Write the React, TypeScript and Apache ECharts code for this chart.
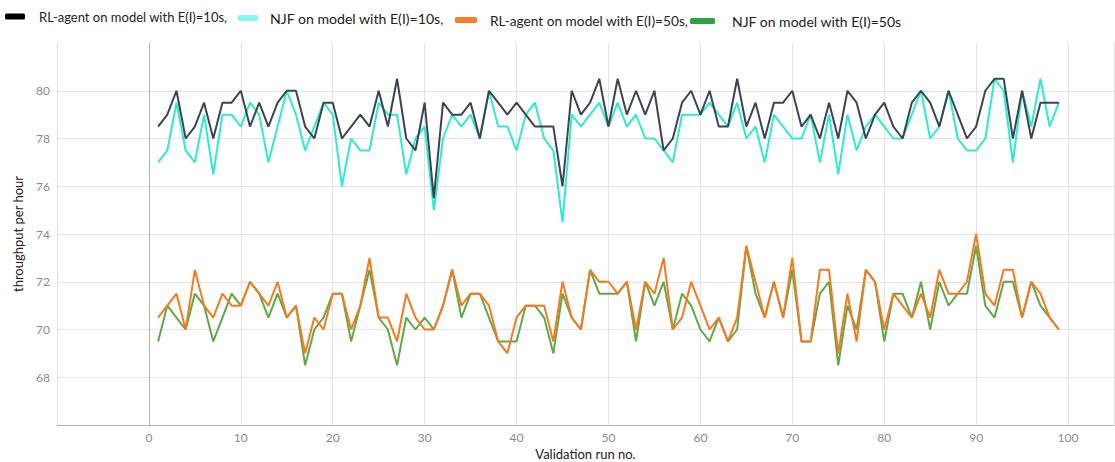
import React, { useEffect, useRef } from "react";
import * as echarts from "echarts";

// Validation run numbers 1..99
const runs: number[] = Array.from({ length: 99 }, (_, i) => i + 1);

const seriesNames = [
  "RL-agent on model with E(I)=10s,",
  "NJF on model with E(I)=10s,",
  "RL-agent on model with E(I)=50s,",
  "NJF on model with E(I)=50s",
];

const rl10: number[] = [
  78.5, 79, 80, 78, 78.5, 79.5, 78, 79.5, 79.5, 80,
  78.5, 79.5, 78.5, 79.5, 80, 80, 78.5, 78, 79.5, 79.5,
  78, 78.5, 79, 78.5, 80, 78.5, 80.5, 78, 77.5, 79.5,
  75.5, 79.5, 79, 79, 79.5, 78, 80, 79.5, 79, 79.5,
  79, 78.5, 78.5, 78.5, 76, 80, 79, 79.5, 80.5, 78.5,
  80.5, 79, 80, 79, 80, 77.5, 78, 79.5, 80, 79,
  80, 78.5, 78.5, 80.5, 78.5, 79.5, 78, 79.5, 79.5, 80,
  78.5, 79, 78, 79.5, 78, 80, 79.5, 78, 79, 79.5,
  78.5, 78, 79.5, 80, 79.5, 78.5, 80, 79, 78, 78.5,
  80, 80.5, 80.5, 78, 80, 78, 79.5, 79.5, 79.5,
];

const njf10: number[] = [
  77, 77.5, 79.5, 77.5, 77, 79, 76.5, 79, 79, 78.5,
  79.5, 79, 77, 78.5, 80, 79, 77.5, 78.5, 79.5, 79,
  76, 78, 77.5, 77.5, 79.5, 79, 79, 76.5, 78, 78.5,
  75, 78, 79, 78.5, 79, 78, 80, 78.5, 78.5, 77.5,
  79, 79.5, 78, 77.5, 74.5, 79, 78.5, 79, 79.5, 78.5,
  79.5, 78.5, 79, 78, 78, 77.5, 77, 79, 79, 79,
  79.5, 79, 78.5, 79.5, 78, 78.5, 77, 79, 78.5, 78,
  78, 79, 77, 79, 76.5, 79, 77.5, 78.5, 79, 78.5,
  78, 78, 79, 80, 78, 78.5, 80, 78, 77.5, 77.5,
  78, 80.5, 80, 77, 80, 78.5, 80.5, 78.5, 79.5,
];

const rl50: number[] = [
  70.5, 71, 71.5, 70, 72.5, 71, 70.5, 71.5, 71, 71,
  72, 71.5, 71, 72, 70.5, 71, 69, 70.5, 70, 71.5,
  71.5, 70, 71, 73, 70.5, 70.5, 69.5, 71.5, 70.5, 70,
  70, 71, 72.5, 71, 71.5, 71.5, 71, 69.5, 69, 70.5,
  71, 71, 71, 69.5, 72, 70.5, 70, 72.5, 72, 72,
  71.5, 72, 70, 72, 71.5, 73, 70, 70.5, 72, 71,
  70, 70.5, 69.5, 70.5, 73.5, 72, 70.5, 72, 70.5, 73,
  69.5, 69.5, 72.5, 72.5, 69, 71.5, 69.5, 72.5, 72, 70,
  71.5, 71, 70.5, 71.5, 70.5, 72.5, 71.5, 71.5, 72, 74,
  71.5, 71, 72.5, 72.5, 70.5, 72, 71.5, 70.5, 70,
];

const njf50: number[] = [
  69.5, 71, 70.5, 70, 71.5, 71, 69.5, 70.5, 71.5, 71,
  72, 71.5, 70.5, 71.5, 70.5, 71, 68.5, 70, 70.5, 71.5,
  71.5, 69.5, 71, 72.5, 70.5, 70, 68.5, 70.5, 70, 70.5,
  70, 71, 72.5, 70.5, 71.5, 71.5, 70.5, 69.5, 69.5, 69.5,
  71, 71, 70.5, 69, 71.5, 70.5, 70, 72.5, 71.5, 71.5,
  71.5, 72, 69.5, 72, 71, 72, 70, 71.5, 71, 70,
  69.5, 70.5, 69.5, 70, 73.5, 71.5, 70.5, 72, 70.5, 72.5,
  69.5, 69.5, 71.5, 72, 68.5, 71, 70, 72.5, 72, 69.5,
  71.5, 71.5, 70.5, 72, 70, 72, 71, 71.5, 71.5, 73.5,
  71, 70.5, 72, 72, 70.5, 72, 71, 70.5, 70,
];

const lineColors = ["#3b4452", "#2eead2", "#f47a20", "#5fa947"];
const legendColors = ["#000000", "#86f6f6", "#f47c2a", "#2fa344"];
const legendLeft = [5, 238, 455, 690];
const legendTop = [10, 11, 13, 14];
const legendIconWidth = [20, 20, 22, 25];
const legendFontSize = [13, 14.1, 13.7, 14];
const legendTextPad = [
  [0, 0, 0, 9],
  [12, 0, 0, 7],
  [0, 0, 0, 8],
  [0, 0, 0, 12],
];

export default function App() {
  const ref = useRef<HTMLDivElement>(null);

  useEffect(() => {
    if (!ref.current) return;
    const chart = echarts.init(ref.current, null, { renderer: "svg" });
    const allData = [rl10, njf10, rl50, njf50];

    const legends = seriesNames.map((name, i) => ({
      show: true,
      left: legendLeft[i],
      top: legendTop[i],
      itemWidth: legendIconWidth[i],
      itemHeight: 6,
      padding: 0,
      data: [
        {
          name,
          icon: "roundRect",
          itemStyle: { color: legendColors[i] },
        },
      ],
      textStyle: {
        fontFamily: "Lato",
        fontSize: legendFontSize[i],
        color: "#222",
        padding: legendTextPad[i],
      },
    }));

    chart.setOption({
      animation: false,
      backgroundColor: "#ffffff",
      legend: legends,
      grid: {
        left: 57,
        right: 1,
        top: 43,
        bottom: 37,
        containLabel: false,
        outerBoundsMode: "none",
      },
      xAxis: {
        type: "value",
        min: -10,
        max: 105,
        interval: 10,
        name: "Validation run no.",
        nameLocation: "middle",
        nameGap: 22,
        nameTextStyle: { fontFamily: "Lato", fontSize: 13, color: "#222" },
        axisLine: { show: true, lineStyle: { color: "#b5b5b5" } },
        axisTick: { show: false },
        axisLabel: {
          color: "#8a8a8a",
          fontFamily: "Lato",
          fontSize: 12,
          margin: 6,
          formatter: (v: number) => (v < 0 || v > 100 ? "" : String(v)),
        },
        splitLine: { show: true, lineStyle: { color: "#e3e3e3" } },
      },
      yAxis: {
        type: "value",
        min: 66,
        max: 82,
        interval: 2,
        name: "throughput per hour",
        nameLocation: "middle",
        nameGap: 33,
        nameTextStyle: { fontFamily: "Lato", fontSize: 13, color: "#222" },
        axisLine: { show: true, lineStyle: { color: "#b5b5b5" } },
        axisTick: { show: false },
        axisLabel: {
          color: "#8a8a8a",
          fontFamily: "Lato",
          fontSize: 12,
          margin: 7,
          formatter: (v: number) => (v <= 66 || v >= 82 ? "" : String(v)),
        },
        splitLine: {
          show: true,
          lineStyle: {
            color: [
              "#e3e3e3", "#e3e3e3", "#e3e3e3", "#e3e3e3", "#e3e3e3",
              "#e3e3e3", "#e3e3e3", "#e3e3e3", "transparent",
            ],
          },
        },
      },
      series: seriesNames.map((name, i) => ({
        name,
        type: "line",
        data: runs.map((r, k) => [r, allData[i][k]]),
        showSymbol: false,
        symbol: "none",
        lineStyle: { color: lineColors[i], width: 2 },
        itemStyle: { color: lineColors[i] },
        z: 10 - i,
        markLine:
          i === 0
            ? {
                silent: true,
                symbol: "none",
                label: { show: false },
                lineStyle: { color: "#b0b0b0", type: "solid", width: 1 },
                data: [{ xAxis: 0 }],
              }
            : undefined,
      })),
    });

    return () => chart.dispose();
  }, []);

  return (
    <div
      ref={ref}
      style={{ position: "fixed", left: 0, top: 0, width: 1115, height: 462 }}
    />
  );
}
